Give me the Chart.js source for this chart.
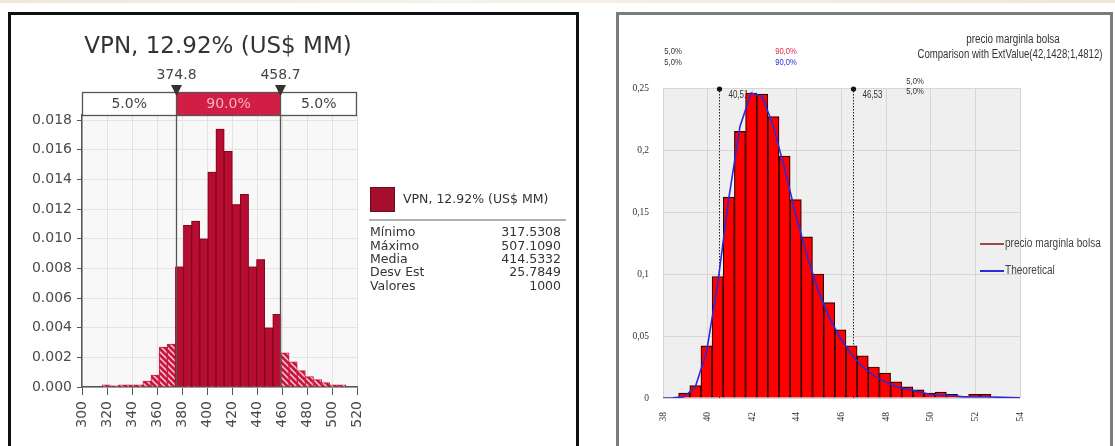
<!DOCTYPE html>
<html>
<head>
<meta charset="utf-8">
<script src="https://cdn.jsdelivr.net/npm/chart.js@4.4.1/dist/chart.umd.min.js"></script>
<style>
  html, body { margin: 0; padding: 0; background: #fff; }
  body { width: 1115px; height: 446px; overflow: hidden; position: relative; }
  #band { position: absolute; left: 0; top: 0; width: 1115px; height: 3px; background: linear-gradient(90deg, #efe7dc, #f6f1ea 40%, #efe6da); }
  .frame { position: absolute; top: 12px; height: 460px; border-style: solid; border-width: 3px 3px 0 3px; box-sizing: border-box; }
  #frameL { left: 8px; width: 571px; border-color: #111; }
  #frameR { left: 616px; width: 497px; border-color: #7c7c7c; }
  canvas { position: absolute; top: 0; }
  #vpn { left: 0; }
  #precio { left: 600px; }
</style>
</head>
<body>
<div id="band"></div>
<div class="frame" id="frameL"></div>
<div class="frame" id="frameR"></div>
<canvas id="vpn" width="600" height="446"></canvas>
<canvas id="precio" width="515" height="446"></canvas>
<script>
// ---------- VPN histogram (left panel) ----------
const vpnTitle = 'VPN, 12.92% (US$ MM)';
const vpnBinCenters = [319.45, 325.95, 332.45, 338.95, 345.45, 351.95, 358.45, 364.95, 371.45, 377.95,
                       384.45, 390.95, 397.45, 403.95, 410.45, 416.95, 423.45, 429.95, 436.45, 442.95,
                       449.45, 455.95, 462.45, 468.95, 475.45, 481.95, 488.45, 494.95, 501.45, 507.95];
const vpnDensity = [0.00015, 0.00008, 0.00015, 0.00015, 0.00015, 0.0004, 0.0008, 0.0027, 0.0029, 0.0081,
                    0.0109, 0.0112, 0.0100, 0.0145, 0.0174, 0.0159, 0.0123, 0.0130, 0.0081, 0.0086,
                    0.0040, 0.0049, 0.0023, 0.0017, 0.0011, 0.0007, 0.0005, 0.0003, 0.00015, 0.00015];
const vpnXTicks = [300, 320, 340, 360, 380, 400, 420, 440, 460, 480, 500, 520];
const vpnYTicks = [0, 0.002, 0.004, 0.006, 0.008, 0.010, 0.012, 0.014, 0.016, 0.018];
const vpnLow = 374.8;
const vpnHigh = 458.7;
const vpnLowLabel = '374.8';
const vpnHighLabel = '458.7';
const vpnPctLabels = ['5.0%', '90.0%', '5.0%'];
const vpnStatNames = ['Mínimo', 'Máximo', 'Media', 'Desv Est', 'Valores'];
const vpnStatValues = ['317.5308', '507.1090', '414.5332', '25.7849', '1000'];

// ---------- precio marginla bolsa histogram (right panel) ----------
const precioTitle = 'precio marginla bolsa';
const precioSubtitle = 'Comparison with ExtValue(42,1428;1,4812)';
const precioBinCenters = [38.95, 39.45, 39.95, 40.45, 40.95, 41.45, 41.95, 42.45, 42.95, 43.45,
                          43.95, 44.45, 44.95, 45.45, 45.95, 46.45, 46.95, 47.45, 47.95, 48.45,
                          48.95, 49.45, 49.95, 50.45, 50.95, 51.45, 51.95, 52.45];
const precioDensity = [0.004, 0.010, 0.042, 0.098, 0.162, 0.215, 0.246, 0.245, 0.227, 0.195,
                       0.160, 0.130, 0.100, 0.077, 0.055, 0.042, 0.034, 0.025, 0.020, 0.013,
                       0.009, 0.0065, 0.004, 0.0048, 0.003, 0.0012, 0.003, 0.003];
const theoX = [38, 38.45, 38.95, 39.45, 39.95, 40.45, 40.95, 41.45, 41.95, 42.45, 42.95, 43.45,
               43.95, 44.45, 44.95, 45.45, 45.95, 46.45, 46.95, 47.45, 47.95, 48.45, 48.95, 49.45,
               49.95, 50.45, 50.95, 51.45, 51.95, 52.45, 53.2, 54];
const theoY = [0, 0.0001, 0.001, 0.009, 0.037, 0.092, 0.161, 0.219, 0.246, 0.243, 0.219, 0.185,
               0.148, 0.115, 0.087, 0.065, 0.048, 0.035, 0.025, 0.018, 0.013, 0.009, 0.007, 0.005,
               0.003, 0.002, 0.002, 0.001, 0.001, 0.001, 0.0005, 0.0002];
const precioXTicks = [38, 40, 42, 44, 46, 48, 50, 52, 54];
const precioYTicks = [0, 0.05, 0.1, 0.15, 0.2, 0.25];
const precioYTickLabels = ['0', '0,05', '0,1', '0,15', '0,2', '0,25'];
const precioLow = 40.51;
const precioHigh = 46.53;
const precioLowLabel = '40,51';
const precioHighLabel = '46,53';
const precioSeriesNames = ['precio marginla bolsa', 'Theoretical'];

const SANS = '"DejaVu Sans", Verdana, sans-serif';
const NARROW = '"Liberation Sans", Arial, sans-serif';
const SERIF = '"Liberation Serif", "Times New Roman", serif';

function hatchPattern(ctx) {
  const c = document.createElement('canvas');
  c.width = 6; c.height = 6;
  const g = c.getContext('2d');
  g.fillStyle = '#c8173f';
  g.fillRect(0, 0, 6, 6);
  g.strokeStyle = '#f7ccd6';
  g.lineWidth = 1.5;
  g.beginPath();
  g.moveTo(-1, -1); g.lineTo(7, 7);
  g.moveTo(-1, 5); g.lineTo(1, 7);
  g.moveTo(5, -1); g.lineTo(7, 1);
  g.stroke();
  return ctx.createPattern(c, 'repeat');
}

// narrow text: draw with a horizontal squeeze
function narrowText(ctx, text, x, y, size, color, align, squeeze) {
  ctx.save();
  ctx.font = size + 'px ' + NARROW;
  ctx.fillStyle = color;
  ctx.textBaseline = 'middle';
  const w = ctx.measureText(text).width * squeeze;
  let x0 = x;
  if (align === 'center') x0 = x - w / 2;
  else if (align === 'right') x0 = x - w;
  ctx.translate(x0, y);
  ctx.scale(squeeze, 1);
  ctx.textAlign = 'left';
  ctx.fillText(text, 0, 0);
  ctx.restore();
}

// ---------- left chart ----------
const vpnCtx = document.getElementById('vpn').getContext('2d');
const vpnPoints = vpnBinCenters.map((x, i) => ({ x: x, y: vpnDensity[i] }));

const vpnDecor = {
  id: 'vpnDecor',
  beforeDraw(chart) {
    const { ctx, chartArea: a } = chart;
    ctx.save();
    ctx.fillStyle = '#f8f8f8';
    ctx.fillRect(a.left, a.top, a.right - a.left, a.bottom - a.top);
    ctx.restore();
  },
  beforeDatasetDraw(chart, args) {
    if (args.index !== 1) return;
    const { ctx, chartArea: a } = chart;
    const x = chart.scales.x;
    const xl = x.getPixelForValue(vpnLow), xh = x.getPixelForValue(vpnHigh);
    ctx.save();
    ctx.beginPath();
    ctx.rect(xl, a.top, xh - xl, a.bottom - a.top);
    ctx.clip();
  },
  afterDatasetDraw(chart, args) {
    if (args.index === 1) chart.ctx.restore();
  },
  afterDatasetsDraw(chart) {
    const { ctx, chartArea: a } = chart;
    const x = chart.scales.x;
    ctx.save();
    ctx.strokeStyle = '#555';
    ctx.lineWidth = 1.3;
    [vpnLow, vpnHigh].forEach(v => {
      const px = Math.round(x.getPixelForValue(v)) + 0.5;
      ctx.beginPath();
      ctx.moveTo(px, a.top);
      ctx.lineTo(px, a.bottom);
      ctx.stroke();
    });
    ctx.restore();
  },
  afterDraw(chart) {
    const { ctx, chartArea: a } = chart;
    const x = chart.scales.x;
    const xl = Math.round(x.getPixelForValue(vpnLow)) + 0.5;
    const xh = Math.round(x.getPixelForValue(vpnHigh)) + 0.5;
    ctx.save();
    // title
    ctx.font = '23px ' + SANS;
    ctx.fillStyle = '#333';
    ctx.textAlign = 'center';
    ctx.textBaseline = 'middle';
    ctx.fillText(vpnTitle, 218, 47);
    // delimiter values
    ctx.font = '14px ' + SANS;
    ctx.fillStyle = '#444';
    ctx.fillText(vpnLowLabel, xl, 75);
    ctx.fillText(vpnHighLabel, xh, 75);
    // percentage bar
    const bt = 92, bb = a.top;
    ctx.fillStyle = '#fff';
    ctx.fillRect(a.left, bt, a.right - a.left, bb - bt);
    ctx.fillStyle = '#d21e45';
    ctx.fillRect(xl, bt, xh - xl, bb - bt);
    ctx.strokeStyle = '#555';
    ctx.lineWidth = 1.3;
    ctx.strokeRect(a.left + 0.5, bt + 0.5, a.right - a.left - 1, bb - bt);
    ctx.beginPath();
    ctx.moveTo(xl, bt); ctx.lineTo(xl, bb);
    ctx.moveTo(xh, bt); ctx.lineTo(xh, bb);
    ctx.stroke();
    ctx.font = '14px ' + SANS;
    const my = (bt + bb) / 2 + 1;
    ctx.fillStyle = '#444';
    ctx.fillText(vpnPctLabels[0], (a.left + xl) / 2, my);
    ctx.fillText(vpnPctLabels[2], (xh + a.right) / 2, my);
    ctx.fillStyle = '#f6b3c3';
    ctx.fillText(vpnPctLabels[1], (xl + xh) / 2, my);
    // triangles
    ctx.fillStyle = '#333';
    [xl, xh].forEach(px => {
      ctx.beginPath();
      ctx.moveTo(px - 5.5, 85);
      ctx.lineTo(px + 5.5, 85);
      ctx.lineTo(px, 96);
      ctx.closePath();
      ctx.fill();
    });
    // legend
    ctx.fillStyle = '#a50f2d';
    ctx.fillRect(370, 187, 25, 25);
    ctx.strokeStyle = '#6a0a1d';
    ctx.lineWidth = 1;
    ctx.strokeRect(370.5, 187.5, 24, 24);
    ctx.font = '12.5px ' + SANS;
    ctx.fillStyle = '#333';
    ctx.textAlign = 'left';
    ctx.fillText(chart.data.datasets[1].label, 403, 200);
    ctx.strokeStyle = '#b0b0b0';
    ctx.lineWidth = 2;
    ctx.beginPath();
    ctx.moveTo(369, 220); ctx.lineTo(566, 220);
    ctx.stroke();
    vpnStatNames.forEach((n, i) => {
      const y = 233 + i * 13.4;
      ctx.textAlign = 'left';
      ctx.fillText(n, 370, y);
      ctx.textAlign = 'right';
      ctx.fillText(vpnStatValues[i], 561, y);
    });
    ctx.restore();
  }
};

new Chart(vpnCtx, {
  type: 'bar',
  data: {
    datasets: [
      {
        label: 'VPN tails',
        data: vpnPoints,
        backgroundColor: hatchPattern(vpnCtx),
        borderColor: '#c8173f',
        borderWidth: 1,
        grouped: false,
        order: 2,
        barPercentage: 1,
        categoryPercentage: 1
      },
      {
        label: vpnTitle,
        data: vpnPoints,
        backgroundColor: '#b80c31',
        borderColor: '#7c0820',
        borderWidth: 1,
        grouped: false,
        order: 1,
        barPercentage: 1,
        categoryPercentage: 1
      }
    ]
  },
  options: {
    responsive: false,
    animation: false,
    layout: { padding: { left: 0, right: 243, top: 115, bottom: 0 } },
    plugins: { legend: { display: false }, tooltip: { enabled: false } },
    scales: {
      x: {
        type: 'linear',
        min: 300,
        max: 520,
        offset: false,
        afterBuildTicks: s => { s.ticks = vpnXTicks.map(v => ({ value: v })); },
        afterFit: s => { s.height = 59; },
        grid: { color: '#e3e3e3', tickColor: '#555', tickLength: 8, offset: false },
        border: { color: '#555', width: 1.5 },
        ticks: {
          autoSkip: false, minRotation: 90, maxRotation: 90, padding: 6,
          color: '#4a4a4a', font: { family: SANS, size: 14 },
          callback: v => String(v)
        }
      },
      y: {
        min: 0,
        max: 0.01835,
        afterBuildTicks: s => { s.ticks = vpnYTicks.map(v => ({ value: v })); },
        afterFit: s => { s.width = 82; },
        grid: { color: '#e3e3e3', tickColor: '#555', tickLength: 5 },
        border: { color: '#555', width: 1.5 },
        ticks: {
          padding: 5, color: '#4a4a4a', font: { family: SANS, size: 14 },
          callback: v => v.toFixed(3)
        }
      }
    }
  },
  plugins: [vpnDecor]
});

// ---------- right chart ----------
const precioCtx = document.getElementById('precio').getContext('2d');

const precioDecor = {
  id: 'precioDecor',
  beforeDraw(chart) {
    const { ctx, chartArea: a } = chart;
    ctx.save();
    ctx.fillStyle = '#efefef';
    ctx.fillRect(a.left, a.top, a.right - a.left, a.bottom - a.top);
    ctx.restore();
  },
  beforeDatasetsDraw(chart) {
    const { ctx, chartArea: a } = chart;
    const x = chart.scales.x;
    ctx.save();
    [[precioLow, precioLowLabel], [precioHigh, precioHighLabel]].forEach(([v, lab]) => {
      const px = Math.round(x.getPixelForValue(v)) + 0.5;
      ctx.strokeStyle = '#222';
      ctx.lineWidth = 1;
      ctx.setLineDash([1.5, 1.5]);
      ctx.beginPath();
      ctx.moveTo(px, a.top);
      ctx.lineTo(px, a.bottom);
      ctx.stroke();
      ctx.setLineDash([]);
      ctx.fillStyle = '#111';
      ctx.beginPath();
      ctx.arc(px, a.top + 1, 2.6, 0, Math.PI * 2);
      ctx.fill();
      narrowText(ctx, lab, px + 9, a.top + 7, 10, '#333', 'left', 0.8);
    });
    ctx.restore();
  },
  afterDraw(chart) {
    const { ctx } = chart;
    narrowText(ctx, precioTitle, 413, 40, 12, '#333', 'center', 0.82);
    narrowText(ctx, precioSubtitle, 410, 55, 12, '#333', 'center', 0.8);
    narrowText(ctx, '5,0%', 73, 52, 9, '#333', 'center', 0.85);
    narrowText(ctx, '5,0%', 73, 63, 9, '#333', 'center', 0.85);
    narrowText(ctx, '90,0%', 186, 52, 9, '#e0284c', 'center', 0.85);
    narrowText(ctx, '90,0%', 186, 63, 9, '#2a2ad8', 'center', 0.85);
    narrowText(ctx, '5,0%', 315, 82, 9, '#333', 'center', 0.85);
    narrowText(ctx, '5,0%', 315, 92, 9, '#333', 'center', 0.85);
    // legend
    const ds = chart.data.datasets;
    const rows = [[ds[0].label, '#a04848', 244], [ds[1].label, '#2b2bd6', 271]];
    rows.forEach(([lab, col, y]) => {
      ctx.save();
      ctx.strokeStyle = col;
      ctx.lineWidth = 2;
      ctx.beginPath();
      ctx.moveTo(380, y); ctx.lineTo(404, y);
      ctx.stroke();
      ctx.restore();
      narrowText(ctx, lab, 405, y, 12, '#444', 'left', 0.84);
    });
  }
};

new Chart(precioCtx, {
  type: 'bar',
  data: {
    datasets: [
      {
        label: precioSeriesNames[0],
        data: precioBinCenters.map((x, i) => ({ x: x, y: precioDensity[i] })),
        backgroundColor: '#ff0000',
        borderColor: '#300000',
        borderWidth: 1.2,
        order: 2,
        barPercentage: 1,
        categoryPercentage: 1
      },
      {
        type: 'line',
        label: precioSeriesNames[1],
        data: theoX.map((x, i) => ({ x: x, y: theoY[i] })),
        borderColor: '#2b2bd6',
        borderWidth: 1.6,
        pointRadius: 0,
        tension: 0,
        order: 1
      }
    ]
  },
  options: {
    responsive: false,
    animation: false,
    layout: { padding: { left: 0, right: 95, top: 88, bottom: 0 } },
    plugins: { legend: { display: false }, tooltip: { enabled: false } },
    scales: {
      x: {
        type: 'linear',
        min: 38,
        max: 54,
        offset: false,
        afterBuildTicks: s => { s.ticks = precioXTicks.map(v => ({ value: v })); },
        afterFit: s => { s.height = 48; },
        grid: { color: '#d6d6d6', drawTicks: false, offset: false },
        border: { display: false },
        ticks: {
          autoSkip: false, minRotation: 90, maxRotation: 90, padding: 14,
          color: '#333', font: { family: SERIF, size: 9.5 },
          callback: v => String(v)
        }
      },
      y: {
        min: 0,
        max: 0.25,
        afterBuildTicks: s => { s.ticks = precioYTicks.map(v => ({ value: v })); },
        afterFit: s => { s.width = 63; },
        grid: { color: '#d6d6d6', drawTicks: false },
        border: { display: false },
        ticks: {
          padding: 14, color: '#333', font: { family: SERIF, size: 9.5 },
          callback: (v, i) => precioYTickLabels[i]
        }
      }
    }
  },
  plugins: [precioDecor]
});
</script>
</body>
</html>
